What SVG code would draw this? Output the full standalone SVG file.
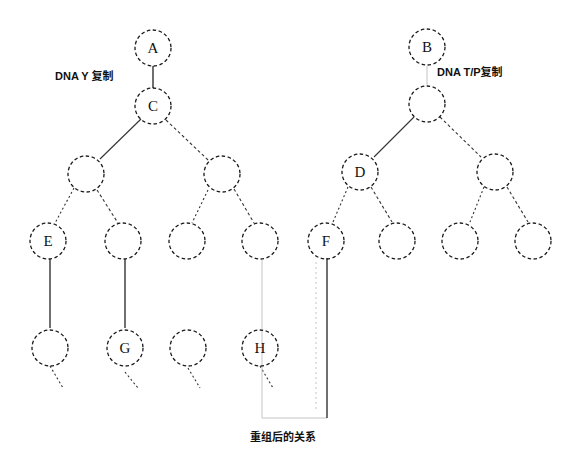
<svg xmlns="http://www.w3.org/2000/svg" width="579" height="460" viewBox="0 0 579 460">
  <style>
    .node circle { fill: none; stroke: #1a1a1a; stroke-width: 1.3; stroke-dasharray: 3.5 2.5; }
    .node text { font-family: "Liberation Serif", serif; font-size: 15px; fill: #111; text-anchor: middle; dominant-baseline: central; }
    .edge { stroke: #333; stroke-width: 1.1; fill: none; }
    .dash { stroke-dasharray: 3 2.5; }
    .dot { stroke-dasharray: 2 2.5; }
    .solid { stroke: #222; stroke-width: 1.3; }
    .faint { stroke: #c4c4c4; stroke-width: 1; }
    .label { font-family: "Liberation Sans", "Noto Sans CJK SC", sans-serif; font-size: 11px; font-weight: bold; fill: #111; }
  </style>
  <rect width="579" height="460" fill="#fff"/>

  <g id="connectors">
    <!-- left tree -->
    <line class="edge solid" x1="153" y1="66" x2="153" y2="88"/>
    <line class="edge" x1="141" y1="119" x2="100" y2="159"/>
    <line class="edge dash" x1="166" y1="120" x2="208" y2="160"/>
    <line class="edge dot" x1="74" y1="188" x2="55" y2="223"/>
    <line class="edge dash" x1="97" y1="190" x2="118" y2="223"/>
    <line class="edge dot" x1="208" y1="190" x2="192" y2="223"/>
    <line class="edge dash" x1="234" y1="189" x2="254" y2="223"/>
    <line class="edge solid" x1="50" y1="259" x2="50" y2="328"/>
    <line class="edge solid" x1="125" y1="259" x2="125" y2="328"/>
    <!-- trailing stubs under the bottom row -->
    <line class="edge dot" x1="50" y1="366" x2="63" y2="388"/>
    <line class="edge dot" x1="125" y1="372" x2="138" y2="388"/>
    <line class="edge dot" x1="188" y1="368" x2="200" y2="388"/>
    <line class="edge dot" x1="260" y1="366" x2="273" y2="388"/>
    <!-- right tree -->
    <line class="edge faint" x1="427" y1="66" x2="427" y2="85"/>
    <line class="edge" x1="414" y1="117" x2="374" y2="157"/>
    <line class="edge dash" x1="440" y1="117" x2="481" y2="157"/>
    <line class="edge dot" x1="348" y1="187" x2="333" y2="222"/>
    <line class="edge dash" x1="371" y1="187" x2="392" y2="222"/>
    <line class="edge dot" x1="484" y1="187" x2="470" y2="222"/>
    <line class="edge dash" x1="507" y1="187" x2="528" y2="222"/>
    <!-- link from H's branch to F -->
    <polyline class="edge faint" points="262,260 262,418 327,418"/>
    <line class="edge faint" x1="316" y1="262" x2="316" y2="410" stroke-dasharray="2 3"/>
    <line class="edge solid" x1="327" y1="258" x2="327" y2="418"/>
  </g>

  <g id="nodeA" class="node"><circle cx="153" cy="48" r="18"/><text x="153" y="48">A</text></g>
  <g id="nodeC" class="node"><circle cx="153" cy="106" r="18"/><text x="153" y="106">C</text></g>
  <g id="nodeL1" class="node"><circle cx="86" cy="174" r="18"/></g>
  <g id="nodeL2" class="node"><circle cx="222" cy="174" r="18"/></g>
  <g id="nodeE" class="node"><circle cx="48" cy="241" r="18"/><text x="48" y="241">E</text></g>
  <g id="nodeL3" class="node"><circle cx="123" cy="241" r="18"/></g>
  <g id="nodeL4" class="node"><circle cx="187" cy="241" r="18"/></g>
  <g id="nodeL5" class="node"><circle cx="260" cy="241" r="18"/></g>
  <g id="nodeL6" class="node"><circle cx="50" cy="348" r="18"/></g>
  <g id="nodeG" class="node"><circle cx="125" cy="348" r="18"/><text x="125" y="348">G</text></g>
  <g id="nodeL7" class="node"><circle cx="188" cy="348" r="18"/></g>
  <g id="nodeH" class="node"><circle cx="260" cy="348" r="18"/><text x="260" y="348">H</text></g>

  <g id="nodeB" class="node"><circle cx="427" cy="47" r="18"/><text x="427" y="47">B</text></g>
  <g id="nodeR1" class="node"><circle cx="427" cy="104" r="18"/></g>
  <g id="nodeD" class="node"><circle cx="360" cy="172" r="18"/><text x="360" y="172">D</text></g>
  <g id="nodeR2" class="node"><circle cx="495" cy="172" r="18"/></g>
  <g id="nodeF" class="node"><circle cx="326" cy="241" r="18"/><text x="326" y="241">F</text></g>
  <g id="nodeR3" class="node"><circle cx="397" cy="241" r="18"/></g>
  <g id="nodeR4" class="node"><circle cx="460" cy="241" r="18"/></g>
  <g id="nodeR5" class="node"><circle cx="533" cy="241" r="18"/></g>

  <g id="labels">
    <text class="label" x="55" y="80">DNA Y 复制</text>
    <text class="label" x="437" y="76">DNA T/P复制</text>
    <text class="label" x="250" y="441">重组后的关系</text>
  </g>
</svg>
